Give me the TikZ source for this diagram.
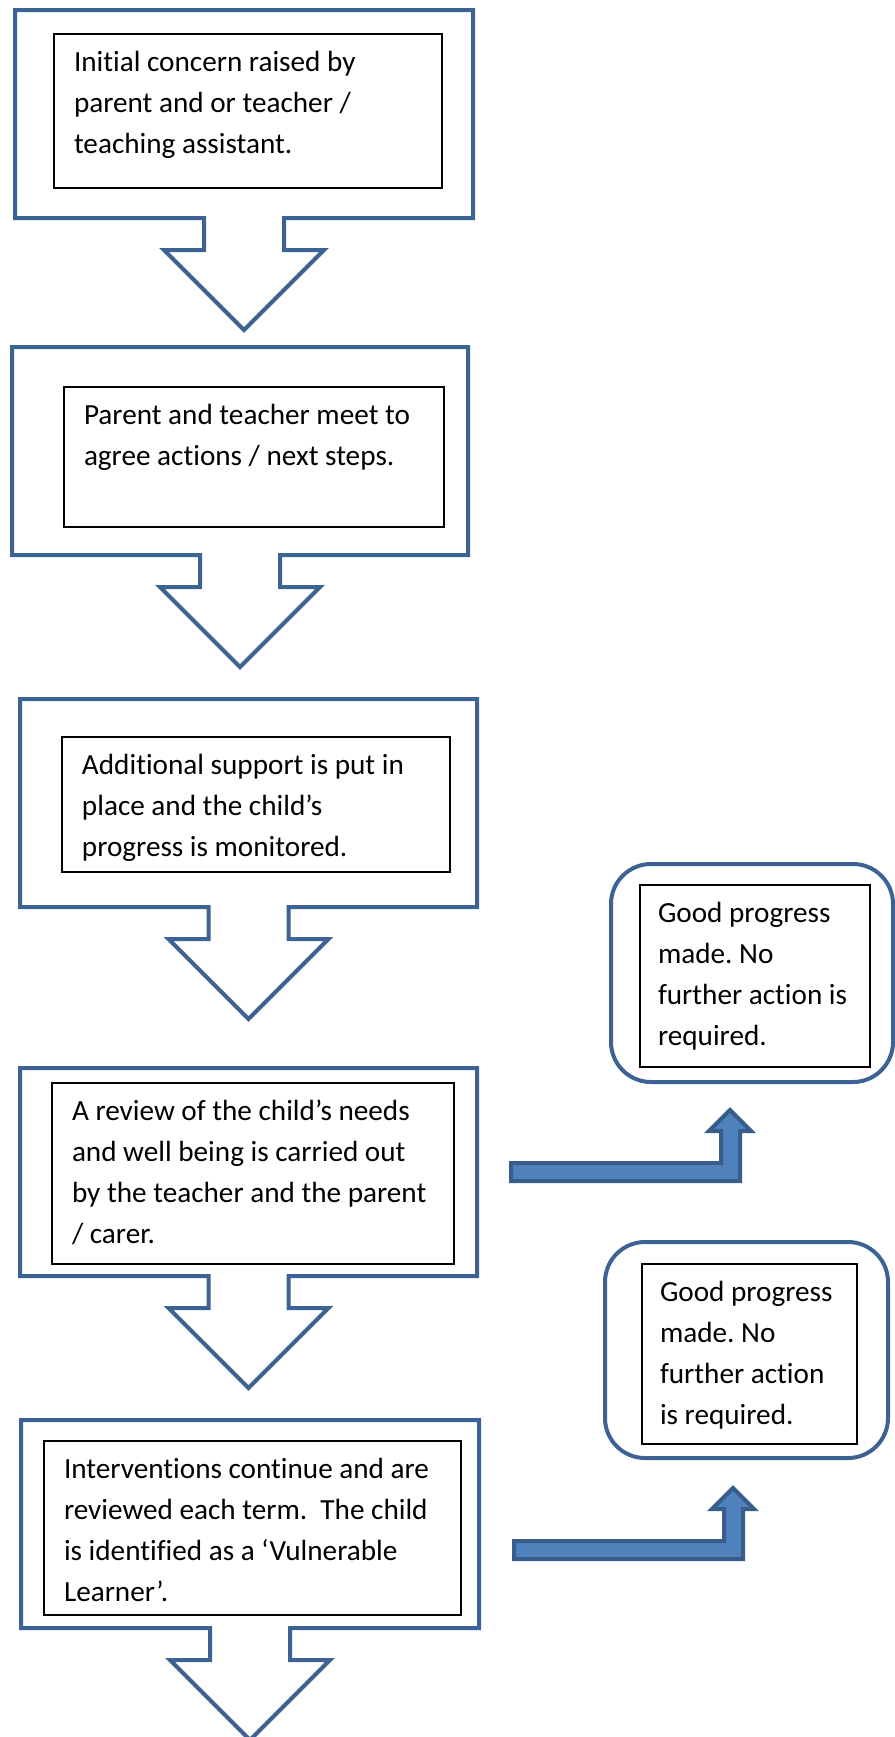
\documentclass[tikz,border=0pt]{standalone}
\usepackage{fontspec}
\setmainfont{Carlito}[Ligatures={TeX,NoCommon}]
\usepackage{tikz}
\usetikzlibrary{calc}
\definecolor{calloutblue}{HTML}{3D6294}
\definecolor{arrowfill}{HTML}{4F81BD}
\definecolor{arrowline}{HTML}{385D8A}
\newcommand{\boxfont}{\fontsize{14.6pt}{20.5pt}\selectfont\frenchspacing\hyphenpenalty=10000\relax}
\tikzstyle{calloutframe} = [rectangle, inner sep=0pt, outer sep=0pt]
\tikzstyle{calloutline} = [draw=calloutblue, line width=2pt]
\tikzstyle{textbox} = [rectangle, draw, line width=0.6pt, align=flush left,
    inner xsep=10pt, inner ysep=0pt, text height=18.5pt]
\tikzstyle{goodbox} = [rectangle, draw=calloutblue, line width=2pt,
    rounded corners=20pt, inner sep=0pt]
\tikzstyle{bentarrow} = [draw=arrowline, fill=arrowfill, line width=2pt]

% box with a down arrow under it
\newcommand{\downcallout}[1]{
    \draw [calloutline] (#1.south west) -- (#1.north west) -- (#1.north east)
        -- (#1.south east) -- ($(#1.south)+(40,0)$) -- ++(0,32) -- ++(40,0)
        -- ($(#1.south)+(0,112)$) -- ++(-80,-80) -- ++(40,0) -- ++(0,-32) -- cycle;
}
% bent arrow pointing up
\newcommand{\bentup}[1]{
    \draw [bentarrow] (#1) -- ++(0,-18) -- ++(210,0) -- ++(0,-32) -- ++(-12,0)
        -- ++(21,-21) -- ++(21,21) -- ++(-11,0) -- ++(0,50) -- cycle;
}

\begin{document}
\begin{tikzpicture}[x=0.5pt, y=-0.5pt, font=\boxfont]
    \useasboundingbox (0,0) rectangle (895,1737);

    % Nodes
    \node [calloutframe, minimum width=229pt, minimum height=104pt] (concern) at (244,114) {};
    \node [calloutframe, minimum width=228pt, minimum height=104pt] (meet) at (240,451) {};
    \node [calloutframe, minimum width=228.5pt, minimum height=104pt] (support) at (248.5,803) {};
    \node [calloutframe, minimum width=228.5pt, minimum height=104pt] (review) at (248.5,1172) {};
    \node [calloutframe, minimum width=229pt, minimum height=104pt] (interv) at (250,1524) {};

    \node [textbox, text width=174pt, text depth=58.5pt] (concerntxt) at (248,111)
        {Initial concern raised by\\parent and or teacher /\\teaching assistant.};
    \node [textbox, text width=170pt, text depth=51.5pt] (meettxt) at (254,457)
        {Parent and teacher meet to\\agree actions / next steps.};
    \node [textbox, text width=174pt, text depth=49pt] (supporttxt) at (256,804.5)
        {Additional support is put in\\place and the child's\\progress is monitored.};
    \node [textbox, text width=181pt, text depth=72pt] (reviewtxt) at (253,1173.5)
        {A review of the child's needs\\and well being is carried out\\by the teacher and the parent\\/ carer.};
    \node [textbox, text width=188.5pt, text depth=68.5pt] (intervtxt) at (252.5,1528)
        {Interventions continue and are\\reviewed each term.\ \ The child\\is identified as a `Vulnerable\\Learner'.};

    \node [goodbox, minimum width=141pt, minimum height=109pt] (goodA) at (752,973) {};
    \node [goodbox, minimum width=141.5pt, minimum height=108pt] (goodB) at (746.5,1350) {};
    \node [textbox, inner xsep=9pt, text width=97pt, text depth=72.5pt] (goodAtxt) at (755,976)
        {Good progress\\made. No\\further action is\\required.};
    \node [textbox, inner xsep=9pt, text width=89.5pt, text depth=71.5pt] (goodBtxt) at (749.5,1354)
        {Good progress\\made. No\\further action\\is required.};

    \coordinate (tailA) at (511,1181);
    \coordinate (tailB) at (514,1559);

    % Connections
    \downcallout{concern}
    \downcallout{meet}
    \downcallout{support}
    \downcallout{review}
    \downcallout{interv}

    \bentup{tailA}
    \bentup{tailB}

\end{tikzpicture}
\end{document}
